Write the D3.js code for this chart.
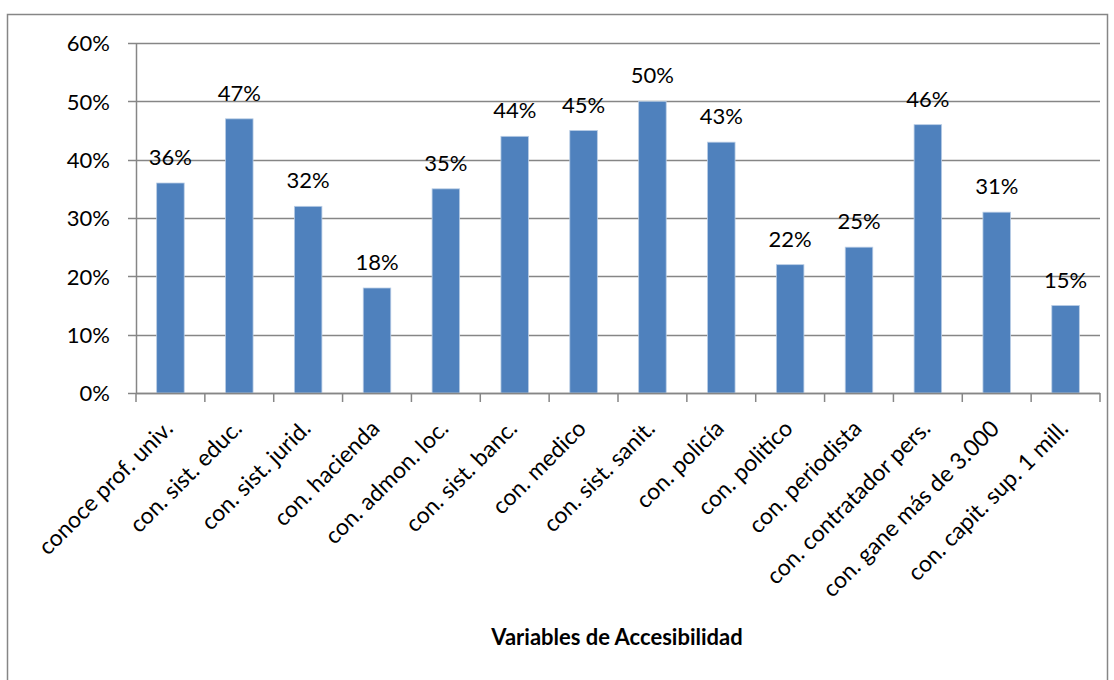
<!DOCTYPE html>
<html>
<head>
<meta charset="utf-8">
<script src="https://cdn.jsdelivr.net/npm/d3@7"></script>
<style>
  body { margin: 0; background: #fff; }
  text { font-family: Lato, "Open Sans", sans-serif; fill: #000; }
</style>
</head>
<body>
<script>
var categories = ["conoce prof. univ.", "con. sist. educ.", "con. sist. jurid.", "con. hacienda",
  "con. admon. loc.", "con. sist. banc.", "con. medico", "con. sist. sanit.", "con. policía",
  "con. politico", "con. periodista", "con. contratador pers.", "con. gane más de 3.000",
  "con. capit. sup. 1 mill."];
var values = [0.36, 0.47, 0.32, 0.18, 0.35, 0.44, 0.45, 0.50, 0.43, 0.22, 0.25, 0.46, 0.31, 0.15];
var yTicks = [0, 0.1, 0.2, 0.3, 0.4, 0.5, 0.6];
var axisTitle = "Variables de Accesibilidad";

var W = 1114, H = 680;
var margin = {top: 43, right: 14, bottom: 287, left: 136},
    width = 1100 - margin.left,
    height = 393 - margin.top;

var svg = d3.select("body").append("svg")
    .attr("width", W)
    .attr("height", H);

// chart frame
svg.append("rect")
    .attr("x", 7.5).attr("y", 14.5)
    .attr("width", 1100).attr("height", 700)
    .attr("fill", "none")
    .attr("stroke", "#868686")
    .attr("stroke-width", 1.5);

var g = svg.append("g")
    .attr("transform", "translate(" + margin.left + "," + margin.top + ")");

var x = d3.scaleBand()
    .domain(categories)
    .range([0, width])
    .paddingInner(0.6)
    .paddingOuter(0.3);
var y = d3.scaleLinear()
    .domain([0, 0.6])
    .range([height, 0]);

// gridlines
g.append("g")
    .selectAll("line")
    .data(yTicks)
    .enter().append("line")
    .attr("x1", -8).attr("x2", width)
    .attr("y1", function(d) { return Math.round(y(d)) + 0.5; })
    .attr("y2", function(d) { return Math.round(y(d)) + 0.5; })
    .attr("stroke", "#868686")
    .attr("stroke-width", 1.5);

// y axis
var yAxis = g.append("g")
    .call(d3.axisLeft(y).tickValues(yTicks).tickFormat(d3.format(".0%")).tickSize(0).tickPadding(26));
yAxis.select(".domain").attr("stroke", "#868686").attr("stroke-width", 1.5);
yAxis.selectAll("text").style("font-size", "22px").attr("dy", "0.35em");

// bars
g.selectAll(".bar")
    .data(values)
    .enter().append("rect")
    .attr("class", "bar")
    .attr("x", function(d, i) { return x(categories[i]); })
    .attr("width", x.bandwidth())
    .attr("y", function(d) { return y(d); })
    .attr("height", function(d) { return height - y(d); })
    .attr("fill", "#4F81BD")
    .attr("stroke", "#B9CDE5")
    .attr("stroke-width", 0.8);

// data labels
g.selectAll(".lbl")
    .data(values)
    .enter().append("text")
    .attr("class", "lbl")
    .attr("x", function(d, i) { return x(categories[i]) + x.bandwidth() / 2; })
    .attr("y", function(d) { return y(d) - 18; })
    .attr("text-anchor", "middle")
    .style("font-size", "22px")
    .text(function(d) { return d3.format(".0%")(d); });

// x axis with ticks at band boundaries
var step = x.step();
var xAxis = g.append("g")
    .attr("transform", "translate(0," + height + ")");
xAxis.append("line")
    .attr("x1", 0).attr("x2", width)
    .attr("y1", 0.5).attr("y2", 0.5)
    .attr("stroke", "#868686").attr("stroke-width", 1.5);
xAxis.selectAll(".tk")
    .data(d3.range(categories.length + 1))
    .enter().append("line")
    .attr("class", "tk")
    .attr("x1", function(i) { return i * step; })
    .attr("x2", function(i) { return i * step; })
    .attr("y1", 0).attr("y2", 9)
    .attr("stroke", "#868686").attr("stroke-width", 1.5);

xAxis.selectAll(".xl")
    .data(categories)
    .enter().append("text")
    .attr("class", "xl")
    .attr("text-anchor", "end")
    .style("font-size", "23px")
    .attr("transform", function(d) {
      return "translate(" + (x(d) + x.bandwidth() / 2 + 4) + ",37) rotate(-45)";
    })
    .text(function(d) { return d; });

svg.append("text")
    .attr("x", 617)
    .attr("y", 645)
    .attr("text-anchor", "middle")
    .style("font-size", "22px")
    .style("font-weight", "bold")
    .text(axisTitle);
</script>
</body>
</html>
